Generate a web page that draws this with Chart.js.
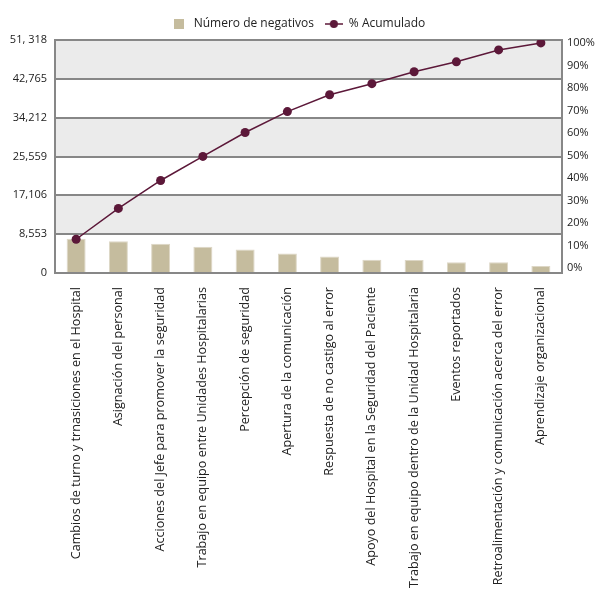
<!DOCTYPE html>
<html lang="es">
<head>
<meta charset="UTF-8">
<title>Pareto de respuestas negativas</title>
<script src="https://cdn.jsdelivr.net/npm/chart.js@4.4.1/dist/chart.umd.min.js"></script>
<style>
    html, body {
        margin: 0;
        padding: 0;
        background: #ffffff;
    }
    .chart-box {
        position: relative;
        width: 595px;
        height: 592px;
    }
</style>
</head>
<body>
<div class="chart-box">
    <canvas id="pareto"></canvas>
</div>

<script>
    // Dimensiones evaluadas (en el orden del Pareto)
    const categories = [
        'Cambios de turno y trnasiciones en el Hospital',
        'Asignación del personal',
        'Acciones del Jefe para promover la seguridad',
        'Trabajo en equipo entre Unidades Hospitalarias',
        'Percepción de seguridad',
        'Apertura de la comunicación',
        'Respuesta de no castigo al error',
        'Apoyo del Hospital en la Seguridad del Paciente',
        'Trabajo en equipo dentro de la Unidad Hospitalaria',
        'Eventos reportados',
        'Retroalimentación y comunicación acerca del error',
        'Aprendizaje organizacional'
    ];

    // Número de respuestas negativas por dimensión
    const negatives = [7520, 7020, 6430, 5770, 5200, 4320, 3660, 2920, 2850, 2350, 2350, 1540];

    // Porcentaje acumulado
    const cumulative = [12.8, 26.5, 38.9, 49.6, 60.2, 69.5, 77.0, 81.9, 87.2, 91.6, 96.9, 100];

    // Eje izquierdo: valores y etiquetas tal como se muestran
    const leftTickValues = [0, 8553, 17106, 25659, 34212, 42765, 51318];
    const leftTickLabels = ['0', '8,553', '17,106', '25,559', '34,212', '42,765', '51, 318'];

    // Eje derecho (%)
    const rightTickValues = [0, 10, 20, 30, 40, 50, 60, 70, 80, 90, 100];

    const barColor = '#c5bc9e';
    const lineColor = '#5c1839';
    const gridColor = '#878787';
    const bandColor = '#ebebeb';
    const fontFamily = "'Open Sans', sans-serif";

    // Íconos de la leyenda
    function legendSquare() {
        const c = document.createElement('canvas');
        c.width = 10; c.height = 10;
        const g = c.getContext('2d');
        g.fillStyle = barColor;
        g.fillRect(0, 0, 10, 10);
        return c;
    }
    function legendLine() {
        const c = document.createElement('canvas');
        c.width = 18; c.height = 10;
        const g = c.getContext('2d');
        g.strokeStyle = lineColor;
        g.lineWidth = 1.5;
        g.beginPath();
        g.moveTo(0, 5); g.lineTo(18, 5);
        g.stroke();
        g.fillStyle = lineColor;
        g.beginPath();
        g.arc(9, 5, 4, 0, Math.PI * 2);
        g.fill();
        return c;
    }

    // Franjas grises alternadas entre líneas de la cuadrícula
    const bandsPlugin = {
        id: 'bands',
        beforeDraw(chart) {
            const { ctx, chartArea, scales } = chart;
            ctx.save();
            ctx.fillStyle = bandColor;
            for (let i = 1; i < leftTickValues.length - 1; i += 2) {
                const top = scales.y.getPixelForValue(leftTickValues[i + 1]);
                const bottom = scales.y.getPixelForValue(leftTickValues[i]);
                ctx.fillRect(chartArea.left, top, chartArea.right - chartArea.left, bottom - top);
            }
            ctx.restore();
        }
    };

    new Chart(document.getElementById('pareto'), {
        data: {
            labels: categories,
            datasets: [
                {
                    type: 'line',
                    label: '% Acumulado',
                    data: cumulative,
                    yAxisID: 'y2',
                    borderColor: lineColor,
                    backgroundColor: lineColor,
                    borderWidth: 1.5,
                    pointRadius: 4.5,
                    pointHoverRadius: 4.5,
                    pointBackgroundColor: lineColor,
                    pointBorderWidth: 0,
                    tension: 0,
                    order: 1
                },
                {
                    type: 'bar',
                    label: 'Número de negativos',
                    data: negatives,
                    yAxisID: 'y',
                    backgroundColor: barColor,
                    borderColor: '#ddd7c6',
                    borderWidth: 1,
                    categoryPercentage: 0.9,
                    barPercentage: 0.5,
                    order: 2
                }
            ]
        },
        options: {
            responsive: true,
            maintainAspectRatio: false,
            animation: false,
            layout: { padding: { top: 7, left: 0, right: 0, bottom: 0 } },
            plugins: {
                tooltip: { enabled: false },
                legend: {
                    position: 'top',
                    labels: {
                        usePointStyle: true,
                        pointStyleWidth: 18,
                        padding: 11,
                        color: '#222',
                        font: { family: fontFamily, size: 12 },
                        generateLabels(chart) {
                            return [
                                {
                                    text: 'Número de negativos',
                                    pointStyle: legendSquare(),
                                    fontColor: '#222',
                                    datasetIndex: 1,
                                    lineWidth: 0
                                },
                                {
                                    text: '% Acumulado',
                                    pointStyle: legendLine(),
                                    fontColor: '#222',
                                    datasetIndex: 0,
                                    lineWidth: 0
                                }
                            ];
                        }
                    }
                }
            },
            scales: {
                x: {
                    grid: { display: false, drawTicks: false },
                    border: { display: true, color: gridColor, width: 2 },
                    ticks: {
                        autoSkip: false,
                        minRotation: 90,
                        maxRotation: 90,
                        padding: 14,
                        color: '#222',
                        font: { family: fontFamily, size: 12.6 }
                    },
                    afterFit(scale) { scale.height = 319; }
                },
                y: {
                    position: 'left',
                    min: 0,
                    max: 51318,
                    afterBuildTicks(scale) {
                        scale.ticks = leftTickValues.map(v => ({ value: v }));
                    },
                    grid: { color: gridColor, lineWidth: 2, drawTicks: false },
                    border: { display: true, color: gridColor, width: 2 },
                    ticks: {
                        padding: 8,
                        color: '#222',
                        font: { family: fontFamily, size: 11 },
                        callback(value, index) { return leftTickLabels[index]; }
                    },
                    afterFit(scale) { scale.width = 55; }
                },
                y2: {
                    position: 'right',
                    min: -2.2,
                    max: 101.3,
                    afterBuildTicks(scale) {
                        scale.ticks = rightTickValues.map(v => ({ value: v }));
                    },
                    grid: { display: false, drawTicks: false },
                    border: { display: true, color: gridColor, width: 2 },
                    ticks: {
                        padding: 5,
                        color: '#222',
                        font: { family: fontFamily, size: 11 },
                        callback(value) { return value + '%'; }
                    },
                    afterFit(scale) { scale.width = 33; }
                }
            }
        },
        plugins: [bandsPlugin]
    });
</script>
</body>
</html>
